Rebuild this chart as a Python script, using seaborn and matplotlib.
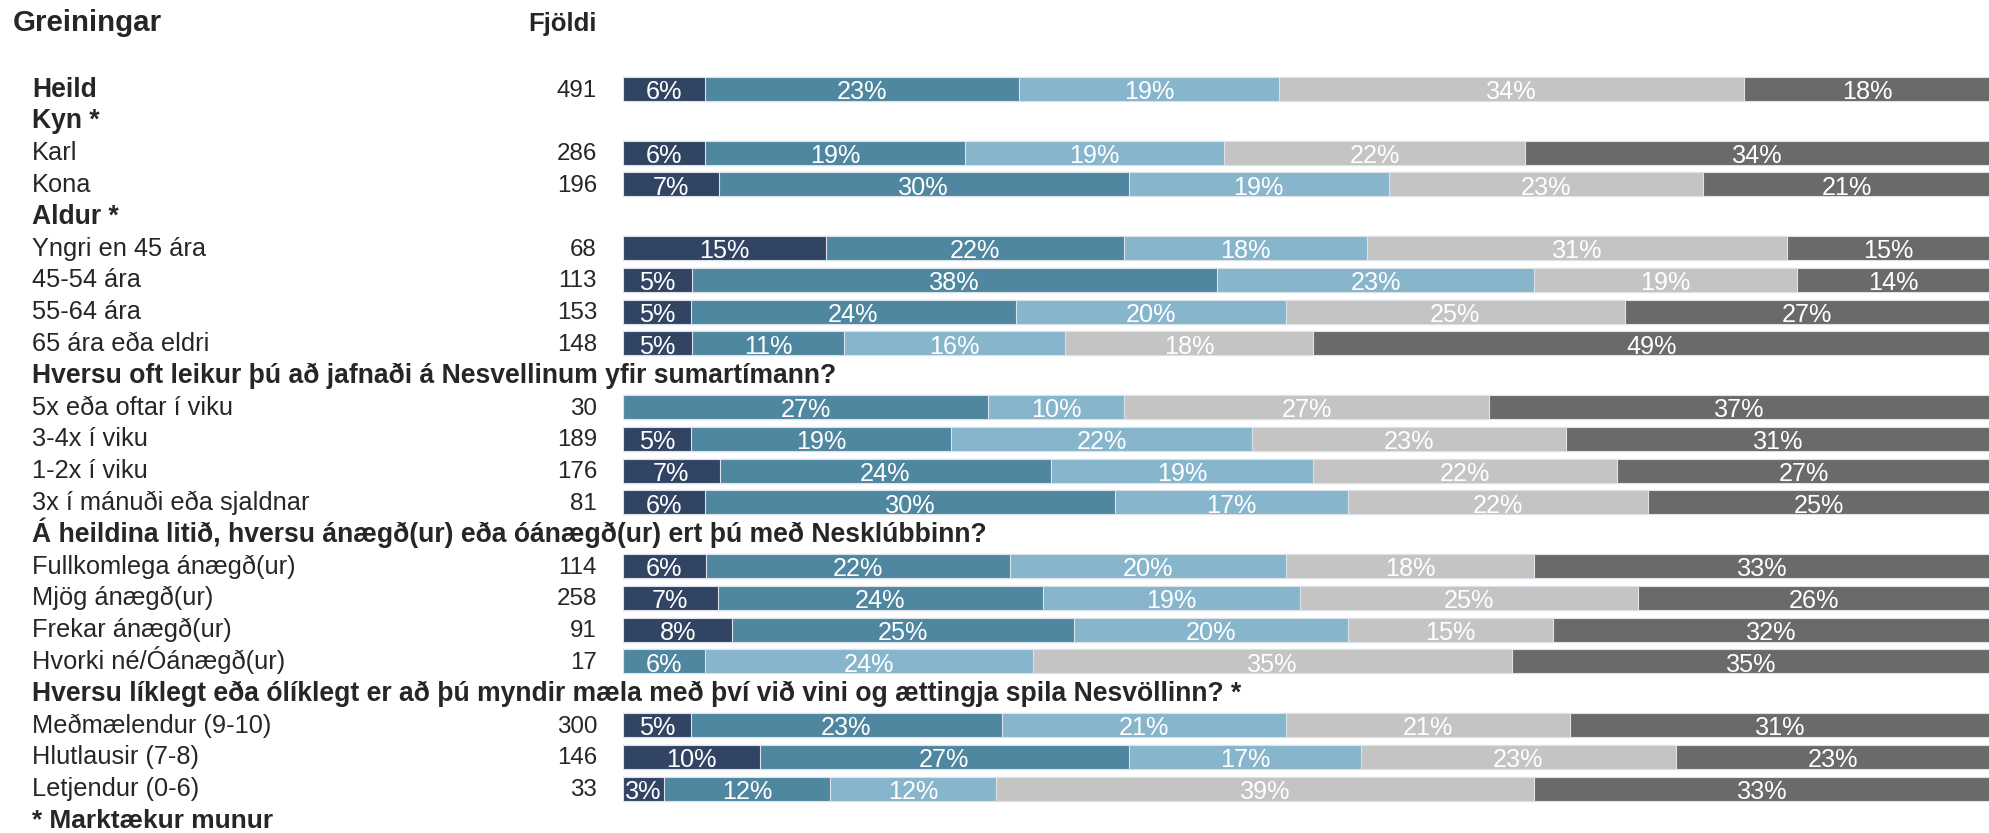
import numpy as np
import pandas as pd
import matplotlib
matplotlib.use("Agg")
import matplotlib.pyplot as plt
import matplotlib.transforms as mtransforms
import seaborn as sns

# row order (header rows have no bar)
rows = [
    "Heild", "Kyn *", "Karl", "Kona", "Aldur *",
    "Yngri en 45 ára", "45-54 ára", "55-64 ára", "65 ára eða eldri",
    "Hversu oft leikur þú að jafnaði á Nesvellinum yfir sumartímann?",
    "5x eða oftar í viku", "3-4x í viku", "1-2x í viku", "3x í mánuði eða sjaldnar",
    "Á heildina litið, hversu ánægð(ur) eða óánægð(ur) ert þú með Nesklúbbinn?",
    "Fullkomlega ánægð(ur)", "Mjög ánægð(ur)", "Frekar ánægð(ur)", "Hvorki né/Óánægð(ur)",
    "Hversu líklegt eða ólíklegt er að þú myndir mæla með því við vini og ættingja spila Nesvöllinn? *",
    "Meðmælendur (9-10)", "Hlutlausir (7-8)", "Letjendur (0-6)",
]
group_rows = ["Heild", "Kyn *", "Aldur *"]
question_rows = [rows[9], rows[14], rows[19]]

bar_rows = [
    "Heild", "Karl", "Kona", "Yngri en 45 ára", "45-54 ára", "55-64 ára", "65 ára eða eldri",
    "5x eða oftar í viku", "3-4x í viku", "1-2x í viku", "3x í mánuði eða sjaldnar",
    "Fullkomlega ánægð(ur)", "Mjög ánægð(ur)", "Frekar ánægð(ur)", "Hvorki né/Óánægð(ur)",
    "Meðmælendur (9-10)", "Hlutlausir (7-8)", "Letjendur (0-6)",
]
counts = [491, 286, 196, 68, 113, 153, 148, 30, 189, 176, 81, 114, 258, 91, 17, 300, 146, 33]
p1 = [6, 6, 7, 15, 5, 5, 5, 0, 5, 7, 6, 6, 7, 8, 0, 5, 10, 3]
p2 = [23, 19, 30, 22, 38, 24, 11, 27, 19, 24, 30, 22, 24, 25, 6, 23, 27, 12]
p3 = [19, 19, 19, 18, 23, 20, 16, 10, 22, 19, 17, 20, 19, 20, 24, 21, 17, 12]
p4 = [34, 22, 23, 31, 19, 25, 18, 27, 23, 22, 22, 18, 25, 15, 35, 21, 23, 39]
p5 = [18, 34, 21, 15, 14, 27, 49, 37, 31, 27, 25, 33, 26, 32, 35, 31, 23, 33]

colors = ["#324463", "#4f87a0", "#86b5cc", "#c4c4c4", "#6a6a68"]

sns.set_style("white")
plt.rcParams["font.family"] = ["Liberation Sans", "DejaVu Sans"]

df = pd.DataFrame({"row": bar_rows, "n": counts,
                   "p1": p1, "p2": p2, "p3": p3, "p4": p4, "p5": p5})
parts = ["p1", "p2", "p3", "p4", "p5"]
tot = df[parts].sum(axis=1)
for p in parts:
    df[p + "_n"] = df[p] / tot * 100
cum = df[[p + "_n" for p in parts]].cumsum(axis=1)
for i, p in enumerate(parts):
    df["c" + str(i)] = cum.iloc[:, i]

W, H = 1990, 833
fig = plt.figure(figsize=(W / 100, H / 100), dpi=100)
renderer = fig.canvas.get_renderer()


def fit(s, px, weight="normal"):
    # font size that makes string s about px pixels wide
    t = fig.text(0, 0, s, fontsize=10, fontweight=weight)
    w = t.get_window_extent(renderer).width
    t.remove()
    return 10 * px / w


fs_label = fit("Yngri en 45 ára", 175)
fs_group = fit("Heild", 65, "bold")
fs_question = fit(rows[14], 956, "bold")
fs_num = fit("491", 40)
fs_bar = fit("23%", 51)

ax = fig.add_axes([623 / W, 0, 1 - 623 / W, 1])

# stacked bars: draw cumulative widths, longest first
for i in range(4, -1, -1):
    sns.barplot(data=df, x="c" + str(i), y="row", order=rows, orient="h",
                color=colors[i], saturation=1, width=0.76, errorbar=None,
                edgecolor="#dde2e8", linewidth=0.8, ax=ax)

pos = {r: k for k, r in enumerate(rows)}
for _, r in df.iterrows():
    y = pos[r["row"]]
    left = 0
    for p in parts:
        w = r[p + "_n"]
        if r[p] > 0:
            ax.text(left + w / 2, y + 0.33, f"{r[p]}%", ha="center", va="baseline",
                    color="white", fontsize=fs_bar)
        left += w

row_h = 31.8
y0 = 89
ax.set_xlim(0, 100)
ax.set_ylim((H - y0) / row_h, -y0 / row_h)
ax.axis("off")

tr = mtransforms.blended_transform_factory(fig.transFigure, ax.transData)
base = 0.24
for r in rows:
    if r in question_rows:
        ax.text(32 / W, pos[r] + base, r, transform=tr, ha="left", va="baseline",
                fontsize=fs_question, fontweight="bold")
    elif r in group_rows:
        ax.text(32 / W, pos[r] + base, r, transform=tr, ha="left", va="baseline",
                fontsize=fs_group, fontweight="bold")
    else:
        ax.text(32 / W, pos[r] + base, r, transform=tr, ha="left", va="baseline",
                fontsize=fs_label)
for r, n in zip(bar_rows, counts):
    ax.text(597 / W, pos[r] + base, str(n), transform=tr, ha="right", va="baseline",
            fontsize=fs_num)

note = "* Marktækur munur"
ax.text(32 / W, len(rows) + base, note, transform=tr, ha="left", va="baseline",
        fontsize=fit(note, 241, "bold"), fontweight="bold")
ax.text(13 / W, (23 - y0) / row_h + base, "Greiningar", transform=tr, ha="left",
        va="baseline", fontsize=fit("Greiningar", 150, "bold"), fontweight="bold")
ax.text(597 / W, (23 - y0) / row_h + base, "Fjöldi", transform=tr, ha="right",
        va="baseline", fontsize=fit("Fjöldi", 69, "bold"), fontweight="bold")

fig.savefig("out.png", dpi=100)
